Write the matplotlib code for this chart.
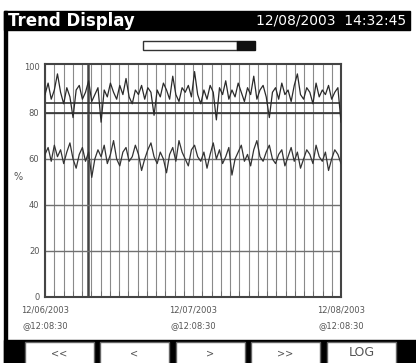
import numpy as np
import matplotlib
matplotlib.use("Agg")
import matplotlib.pyplot as plt
from matplotlib.patches import Rectangle

# trend values (percent)
upper_trend = [88, 93, 86, 90, 97, 89, 84, 91, 87, 78, 90, 92, 86, 89, 94, 85,
               88, 91, 76, 90, 87, 93, 89, 86, 92, 88, 95, 87, 84, 90, 88, 92,
               86, 91, 89, 79, 90, 87, 93, 90, 86, 96, 88, 85, 91, 89, 92, 87,
               98, 88, 84, 90, 86, 92, 89, 77, 91, 88, 94, 86, 90, 87, 93, 89,
               85, 91, 88, 96, 86, 90, 92, 87, 78, 89, 91, 86, 93, 88, 90, 85,
               92, 97, 88, 86, 91, 89, 84, 93, 87, 90, 88, 92, 86, 89, 91, 76]
lower_trend = [62, 65, 59, 66, 61, 64, 58, 63, 67, 60, 56, 62, 65, 59, 63, 52,
               60, 64, 61, 66, 58, 62, 68, 60, 57, 63, 65, 59, 61, 66, 62, 55,
               60, 64, 67, 61, 58, 63, 60, 54, 62, 65, 59, 68, 63, 60, 57, 64,
               66, 61, 59, 63, 56, 62, 67, 60, 64, 58, 61, 65, 53, 60, 63, 66,
               59, 62, 57, 64, 68, 61, 59, 63, 66, 60, 58, 62, 64, 57, 61, 65,
               59, 63, 56, 60, 64, 62, 58, 66, 61, 59, 63, 55, 60, 64, 62, 58]
alarm_limits = [80, 84.5]

x_ticks = [0, 24, 48]          # hours
x_labels = ["12/06/2003\n@12:08:30", "12/07/2003\n@12:08:30", "12/08/2003\n@12:08:30"]
y_ticks = [0, 20, 40, 60, 80, 100]
buttons = ["<<", "<", ">", ">>", "LOG"]
title = "Trend Display"
stamp = "12/08/2003  14:32:45"

W, H = 416, 363
fig = plt.figure(figsize=(W / 100, H / 100), dpi=100)
fig.patch.set_facecolor("white")

# decoration layer in pixel coordinates
bg = fig.add_axes([0, 0, 1, 1])
bg.set_xlim(0, W)
bg.set_ylim(H, 0)
bg.axis("off")

# header bar
bg.add_patch(Rectangle((4, 11), 406, 19, color="black"))
bg.text(8, 21, title, color="white", fontsize=12, fontweight="bold", va="center", ha="left")
bg.text(406, 21, stamp, color="white", fontsize=10, va="center", ha="right")
# left frame line
bg.add_patch(Rectangle((4, 11), 3, H - 11, color="black"))

# scroll bar
bg.add_patch(Rectangle((143, 41), 94, 9, facecolor="white", edgecolor="#333333", lw=1))
bg.add_patch(Rectangle((237, 41), 18, 9, color="#111111"))

# unit label
bg.text(18, 177, "%", fontsize=7, color="#555555", ha="center", va="center")

# button bar
bg.add_patch(Rectangle((4, 340), W - 4, H - 340, color="black"))
bx = [25, 100, 176, 251, 327]
for x0, lab in zip(bx, buttons):
    bg.add_patch(Rectangle((x0, 342), 69, 22, facecolor="white", edgecolor="#666666", lw=1))
    bg.text(x0 + 34.5, 353, lab, color="#555555", fontsize=7 if lab != "LOG" else 9,
            ha="center", va="center")

# trend plot
ax = fig.add_axes([45 / W, 1 - 297 / H, 296 / W, 233 / H])
xs_u = np.linspace(0, 48, len(upper_trend))
xs_l = np.linspace(0, 48, len(lower_trend))

for v in np.arange(0, 48.01, 1.5):
    ax.axvline(v, color="#8a8a8a", lw=0.8, zorder=1)
ax.axvline(7.0, color="#444444", lw=1.8, zorder=1)
for v in y_ticks[1:-1]:
    ax.axhline(v, color="#707070", lw=1.0, zorder=1)
for v in alarm_limits:
    ax.axhline(v, color="#333333", lw=1.2, zorder=2)

ax.plot(xs_u, upper_trend, color="#2a2a2a", lw=0.9, zorder=3)
ax.plot(xs_l, lower_trend, color="#333333", lw=0.9, zorder=3)

ax.set_xlim(0, 48)
ax.set_ylim(0, 101.3)
ax.set_xticks(x_ticks)
ax.set_xticklabels(x_labels, fontsize=6, color="#555555", linespacing=1.9)
ax.set_yticks(y_ticks)
ax.set_yticklabels([str(v) for v in y_ticks], fontsize=6, color="#555555")
ax.set_xticks(np.arange(0, 48.01, 1.5), minor=True)
ax.tick_params(axis="x", which="minor", direction="in", length=4, color="#666666")
ax.tick_params(axis="x", which="major", length=0, pad=6)
ax.tick_params(axis="y", length=0, pad=4)
for s in ax.spines.values():
    s.set_color("#444444")
    s.set_linewidth(1.5)

fig.savefig("out.png", dpi=100)
